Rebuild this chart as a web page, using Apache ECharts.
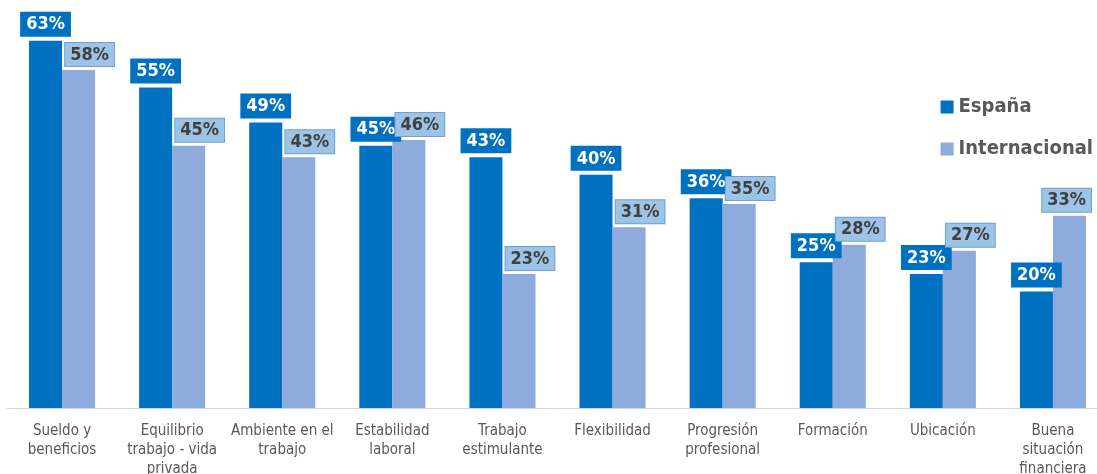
<!DOCTYPE html>
<html><head><meta charset="utf-8">
<script src="https://cdn.jsdelivr.net/npm/echarts@6/dist/echarts.min.js"></script>
<style>html,body{margin:0;padding:0;background:#fff}#c{width:1097px;height:474px}</style>
</head><body><div id="c"></div>
<script>
const categories = ["Sueldo y\nbeneficios","Equilibrio\ntrabajo - vida\nprivada","Ambiente en el\ntrabajo","Estabilidad\nlaboral","Trabajo\nestimulante","Flexibilidad","Progresión\nprofesional","Formación","Ubicación","Buena\nsituación\nfinanciera"];
const espana = [63,55,49,45,43,40,36,25,23,20];
const internacional = [58,45,43,46,23,31,35,28,27,33];
const seriesNames = ["España","Internacional"];

const FONT = "'DejaVu Sans Condensed','DejaVu Sans',sans-serif";
const chart = echarts.init(document.getElementById('c'));
chart.setOption({
  animation:false,
  grid:{left:7,right:-11,top:0,bottom:66,containLabel:false,outerBoundsMode:'none'},
  legend:{orient:'vertical',right:4,top:97,padding:0,itemGap:22,itemWidth:13,itemHeight:13,icon:'rect',
    textStyle:{fontFamily:FONT,fontWeight:'bold',fontSize:20,color:'#595959'},
    data:seriesNames},
  xAxis:{type:'category',data:categories,
    axisLine:{lineStyle:{color:'#D9D9D9'}},axisTick:{show:false},
    axisLabel:{interval:0,fontFamily:FONT,fontSize:15,color:'#595959',lineHeight:19,margin:14}},
  yAxis:{type:'value',min:0,max:70,show:false,splitLine:{show:false}},
  series:[
    {name:seriesNames[0],type:'bar',data:espana,barWidth:'30%',barGap:'0%',
      itemStyle:{color:'#0070C0'},
      label:{show:true,position:'top',distance:4,formatter:'{c}%',fontFamily:FONT,fontWeight:'bold',fontSize:18,
        color:'#fff',backgroundColor:'#0070C0',padding:[4,6,3,6]}},
    {name:seriesNames[1],type:'bar',data:internacional,barWidth:'30%',
      itemStyle:{color:'#8FAADC'},
      label:{show:true,position:'top',distance:4,formatter:'{c}%',fontFamily:FONT,fontWeight:'bold',fontSize:18,
        color:'#404040',backgroundColor:'#9DC3E6',borderColor:'#6FA0D0',borderWidth:1,padding:[3,5,2,5]},
      labelLayout:function(p){
        const r=p.labelRect; let dx=11;
        if (r.x + r.width + dx > 1092) dx = 1092 - (r.x + r.width);
        return {dx:dx};
      }}
  ]
});
</script></body></html>
